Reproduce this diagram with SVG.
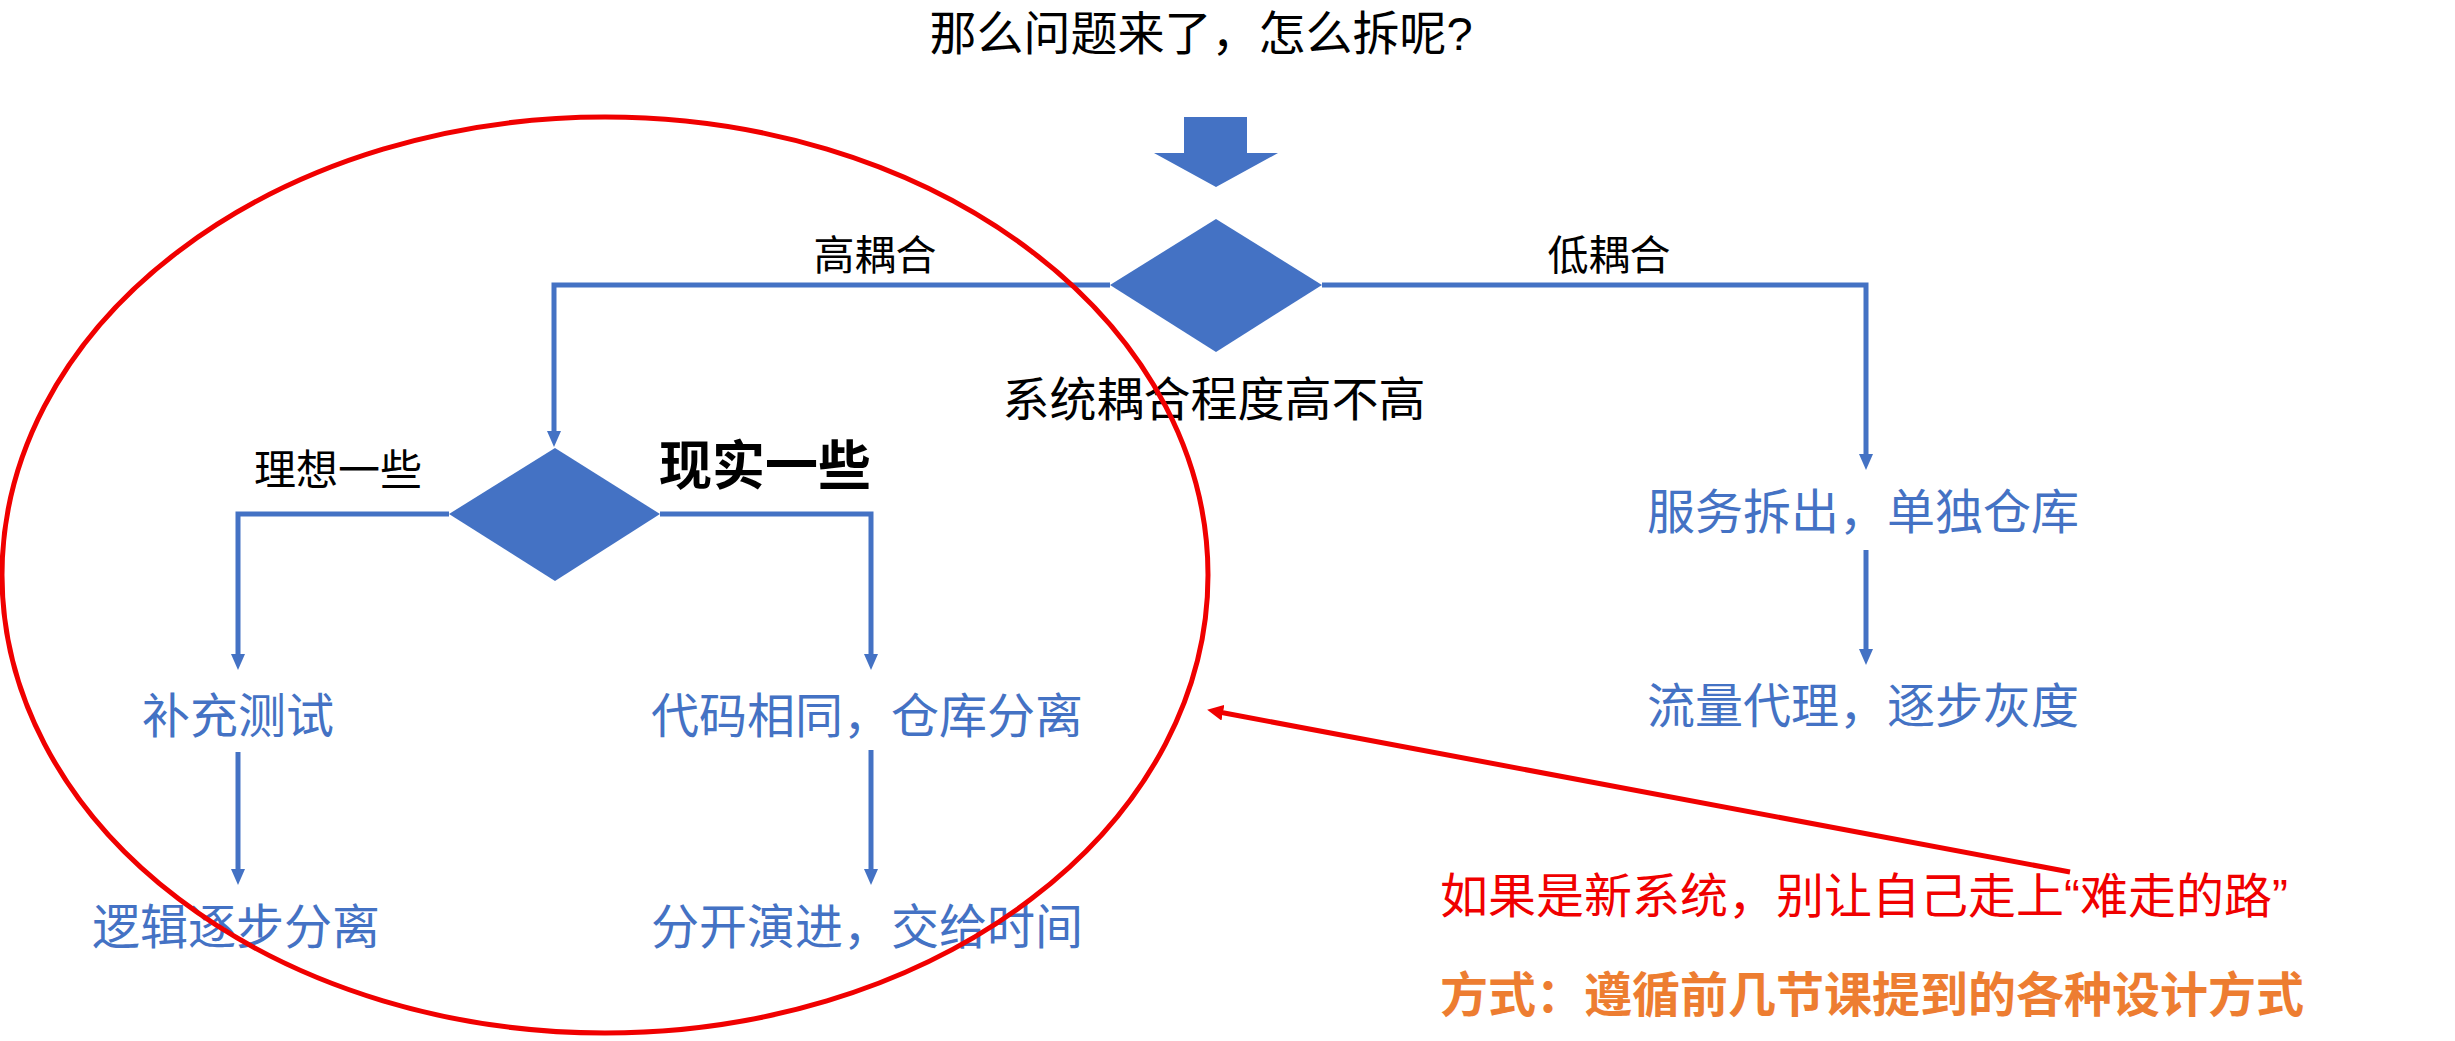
<svg xmlns="http://www.w3.org/2000/svg" width="2455" height="1041" viewBox="0 0 2455 1041">
<style>
  text { font-family: "Liberation Sans", "Noto Sans CJK SC", sans-serif; }
  .blk { fill: #000000; }
  .blue { fill: #4472C4; font-size: 48px; text-anchor: middle; }
  .shape { fill: #4472C4; }
  .conn { fill: none; stroke: #4472C4; stroke-width: 5; }
  .red { fill: none; stroke: #F00000; stroke-width: 5; }
</style>
<defs>
  <marker id="ab" markerUnits="userSpaceOnUse" markerWidth="16" markerHeight="14" refX="4" refY="7" orient="auto">
    <path d="M0,0 L16,7 L0,14 z" fill="#4472C4"/>
  </marker>
  <marker id="ar" markerUnits="userSpaceOnUse" markerWidth="16" markerHeight="16" refX="4" refY="8" orient="auto">
    <path d="M0,0 L16,8 L0,16 z" fill="#F00000"/>
  </marker>
</defs>
<rect width="2455" height="1041" fill="#FFFFFF"/>

<g id="title">
  <text class="blk" x="1201" y="50" font-size="47" text-anchor="middle">那么问题来了，怎么拆呢?</text>
</g>
<g id="block-arrow">
  <polygon class="shape" points="1184,117 1247,117 1247,153 1278,153 1216,187 1154,153 1184,153"/>
</g>

<g id="connectors">
  <path class="conn" d="M1110,285 H554 V435" marker-end="url(#ab)"/>
  <path class="conn" d="M1322,285 H1866 V458" marker-end="url(#ab)"/>
  <path class="conn" d="M449,514 H238 V658" marker-end="url(#ab)"/>
  <path class="conn" d="M660,514 H871 V658" marker-end="url(#ab)"/>
  <path class="conn" d="M238,752 V873" marker-end="url(#ab)"/>
  <path class="conn" d="M871,750 V873" marker-end="url(#ab)"/>
  <path class="conn" d="M1866,550 V653" marker-end="url(#ab)"/>
  <text class="blk" x="875" y="270" font-size="41" text-anchor="middle">高耦合</text>
  <text class="blk" x="1609" y="270" font-size="41" text-anchor="middle">低耦合</text>
  <text class="blk" x="338" y="485" font-size="42" text-anchor="middle">理想一些</text>
  <text class="blk" x="765" y="485" font-size="53" font-weight="bold" text-anchor="middle">现实一些</text>
</g>

<g id="decision-coupling">
  <polygon class="shape" points="1216,219 1322,285 1216,352 1110,285"/>
  <text class="blk" x="1214" y="416" font-size="47" text-anchor="middle">系统耦合程度高不高</text>
</g>
<g id="decision-ideal">
  <polygon class="shape" points="555,448 660,514 555,581 449,514"/>
</g>

<g id="node-test"><text class="blue" x="238" y="733">补充测试</text></g>
<g id="node-logic"><text class="blue" x="236" y="944">逻辑逐步分离</text></g>
<g id="node-samecode"><text class="blue" x="867" y="733">代码相同，仓库分离</text></g>
<g id="node-evolve"><text class="blue" x="867" y="944">分开演进，交给时间</text></g>
<g id="node-service"><text class="blue" x="1863" y="529">服务拆出，单独仓库</text></g>
<g id="node-traffic"><text class="blue" x="1863" y="723">流量代理，逐步灰度</text></g>

<g id="note">
  <text x="1440" y="913" font-size="48" fill="#F00000">如果是新系统，别让自己走上“难走的路”</text>
  <text x="1440" y="1012" font-size="48" font-weight="bold" fill="#ED7D31">方式：遵循前几节课提到的各种设计方式</text>
</g>

<g id="annotation">
  <ellipse class="red" cx="605" cy="575" rx="603" ry="458"/>
  <path class="red" d="M2070,872 L1219,712" marker-end="url(#ar)"/>
</g>
</svg>
